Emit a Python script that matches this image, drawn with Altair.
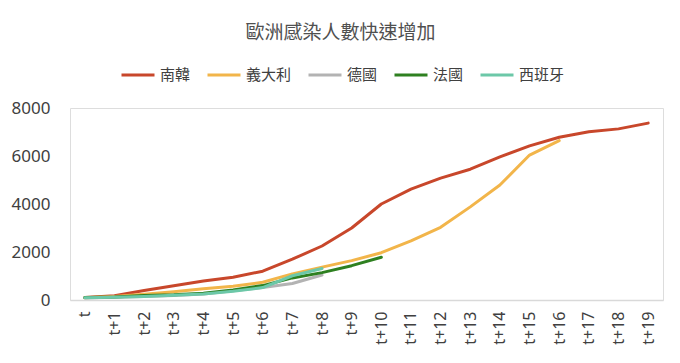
import altair as alt
import pandas as pd

periods = ["t", "t+1", "t+2", "t+3", "t+4", "t+5", "t+6", "t+7", "t+8", "t+9",
           "t+10", "t+11", "t+12", "t+13", "t+14", "t+15", "t+16", "t+17", "t+18", "t+19"]

series_names = ["南韓", "義大利", "德國", "法國", "西班牙"]
series_colors = ["#C8472B", "#F2B54A", "#B3B3B3", "#2E8020", "#6CC8A8"]

korea = [100, 180, 400, 590, 790, 950, 1200, 1700, 2250, 3000, 4000,
         4620, 5080, 5450, 5960, 6420, 6780, 7010, 7130, 7370]
italy = [90, 150, 235, 340, 470, 570, 740, 1090, 1370, 1640, 1970,
         2460, 3030, 3880, 4790, 6040, 6640]
germany = [80, 110, 150, 190, 250, 380, 520, 690, 1040]
france = [100, 130, 190, 220, 285, 420, 600, 920, 1140, 1430, 1780]
spain = [90, 110, 150, 200, 250, 360, 520, 1010, 1310]

all_series = [korea, italy, germany, france, spain]

rows = []
for name, vals in zip(series_names, all_series):
    for p, v in zip(periods, vals):
        rows.append({"series": name, "period": p, "value": v})
df = pd.DataFrame(rows)

num_font = "Noto Sans"
cjk_font = "Noto Sans CJK TC"

chart = alt.Chart(df).mark_line(
    strokeWidth=3, strokeCap="round", strokeJoin="round"
).encode(
    x=alt.X("period:O", sort=periods,
            scale=alt.Scale(type="point", padding=0.5),
            axis=alt.Axis(title=None, labelAngle=270, ticks=False,
                          domainColor="#D9D9D9", domainWidth=1.5,
                          labelFont=num_font, labelFontSize=16,
                          labelColor="#404040", labelPadding=11)),
    y=alt.Y("value:Q", scale=alt.Scale(domain=[0, 8000]),
            axis=alt.Axis(title=None, values=[0, 2000, 4000, 6000, 8000],
                          grid=False, domain=False, ticks=False, format="d",
                          labelFont=num_font, labelFontSize=17,
                          labelColor="#404040", labelPadding=20)),
    color=alt.Color("series:N",
                    scale=alt.Scale(domain=series_names, range=series_colors),
                    legend=alt.Legend(title=None, orient="none",
                                      legendX=50, legendY=-51,
                                      direction="horizontal", columns=5,
                                      symbolType="stroke", symbolStrokeWidth=3,
                                      symbolSize=1089, labelFont=cjk_font,
                                      labelFontSize=15, labelColor="#404040",
                                      labelOffset=4, columnPadding=10)),
).properties(
    width=593,
    height=192,
    autosize=alt.AutoSizeParams(type="none"),
    padding={"left": 62, "top": 100, "right": 9, "bottom": 55},
    title=alt.TitleParams("歐洲感染人數快速增加", font=cjk_font, fontSize=19,
                          fontWeight="normal", color="#505050",
                          dx=-26, offset=14),
).configure_view(strokeWidth=0).configure(background="white")

chart.save("out.html", embed_options={"renderer": "svg", "actions": False})
